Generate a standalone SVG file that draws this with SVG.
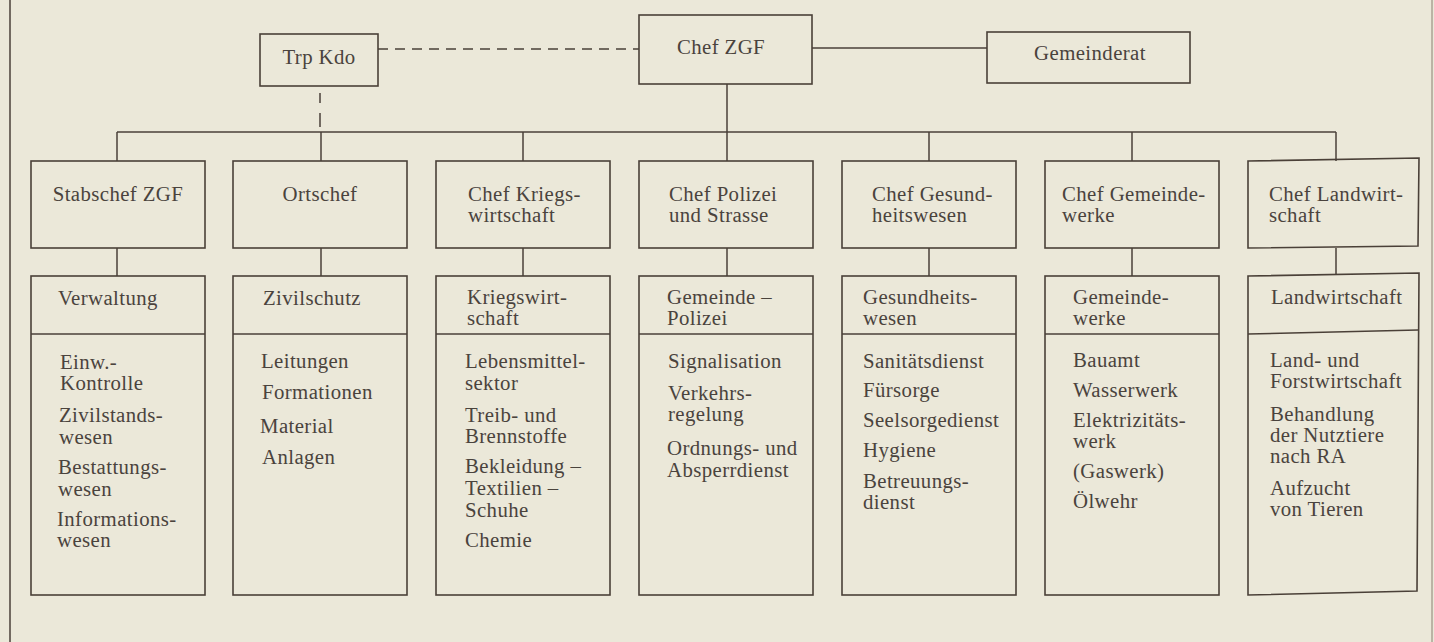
<svg xmlns="http://www.w3.org/2000/svg" width="1434" height="642" viewBox="0 0 1434 642">
<style>
.bg{fill:#ebe8d9}
.box{fill:none;stroke:#4a4038;stroke-width:1.6}
.ln{fill:none;stroke:#4a4038;stroke-width:1.5}
.dash{fill:none;stroke:#4a4038;stroke-width:1.5;stroke-dasharray:10 7}
text{font-family:"Liberation Serif","Times New Roman",serif;font-size:20.8px;fill:#4a433d;letter-spacing:0.4px}
.c{text-anchor:middle}
</style>
<rect class="bg" x="0" y="0" width="1434" height="642"/>
<line class="ln" x1="10" y1="0" x2="10" y2="642"/>
<line x1="1432" y1="0" x2="1432" y2="642" stroke="#8a8070" stroke-width="1"/>

<g id="connectors">
<line class="dash" x1="378" y1="49" x2="639" y2="49"/>
<line class="ln" x1="812" y1="48" x2="987" y2="48"/>
<line class="ln" x1="320" y1="93" x2="320" y2="103"/>
<line class="ln" x1="320" y1="113" x2="320" y2="127"/>
<line class="ln" x1="727" y1="84" x2="727" y2="132"/>
<line class="ln" x1="117" y1="132" x2="1336" y2="132"/>
<line class="ln" x1="117" y1="132" x2="117" y2="161"/>
<line class="ln" x1="321" y1="132" x2="321" y2="161"/>
<line class="ln" x1="523" y1="132" x2="523" y2="161"/>
<line class="ln" x1="727" y1="132" x2="727" y2="161"/>
<line class="ln" x1="929" y1="132" x2="929" y2="161"/>
<line class="ln" x1="1132" y1="132" x2="1132" y2="161"/>
<line class="ln" x1="1336" y1="132" x2="1336" y2="161"/>
<line class="ln" x1="117" y1="248" x2="117" y2="276"/>
<line class="ln" x1="321" y1="248" x2="321" y2="276"/>
<line class="ln" x1="523" y1="248" x2="523" y2="276"/>
<line class="ln" x1="727" y1="248" x2="727" y2="276"/>
<line class="ln" x1="929" y1="248" x2="929" y2="276"/>
<line class="ln" x1="1132" y1="248" x2="1132" y2="276"/>
<line class="ln" x1="1336" y1="248" x2="1336" y2="275"/>
</g>

<g id="trp-kdo">
<rect class="box" x="260" y="34" width="118" height="52"/>
<text class="c" x="319" y="64">Trp Kdo</text>
</g>
<g id="chef-zgf">
<rect class="box" x="639" y="15" width="173" height="69"/>
<text class="c" x="721" y="54">Chef ZGF</text>
</g>
<g id="gemeinderat">
<rect class="box" x="987" y="32" width="203" height="51"/>
<text class="c" x="1090" y="60">Gemeinderat</text>
</g>

<g id="stabschef">
<rect class="box" x="31" y="161" width="174" height="87"/>
<text class="c" x="118" y="201">Stabschef ZGF</text>
</g>
<g id="ortschef">
<rect class="box" x="233" y="161" width="174" height="87"/>
<text class="c" x="320" y="201">Ortschef</text>
</g>
<g id="chef-kriegswirtschaft">
<rect class="box" x="436" y="161" width="174" height="87"/>
<text x="468" y="201">Chef Kriegs-</text>
<text x="468" y="222">wirtschaft</text>
</g>
<g id="chef-polizei">
<rect class="box" x="639" y="161" width="174" height="87"/>
<text x="669" y="201">Chef Polizei</text>
<text x="669" y="222">und Strasse</text>
</g>
<g id="chef-gesundheit">
<rect class="box" x="842" y="161" width="174" height="87"/>
<text x="872" y="201">Chef Gesund-</text>
<text x="872" y="222">heitswesen</text>
</g>
<g id="chef-gemeindewerke">
<rect class="box" x="1045" y="161" width="174" height="87"/>
<text x="1062" y="201">Chef Gemeinde-</text>
<text x="1062" y="222">werke</text>
</g>
<g id="chef-landwirtschaft">
<path class="box" d="M1248 161 L1419 158 L1418 246 L1248 248 Z"/>
<text x="1269" y="201">Chef Landwirt-</text>
<text x="1269" y="222">schaft</text>
</g>

<g id="verwaltung">
<rect class="box" x="31" y="276" width="174" height="319"/>
<line class="ln" x1="31" y1="334" x2="205" y2="334"/>
<text x="58" y="305">Verwaltung</text>
<text x="60" y="369">Einw.-</text>
<text x="60" y="390">Kontrolle</text>
<text x="59" y="422">Zivilstands-</text>
<text x="59" y="444">wesen</text>
<text x="58" y="474">Bestattungs-</text>
<text x="58" y="496">wesen</text>
<text x="57" y="526">Informations-</text>
<text x="57" y="547">wesen</text>
</g>
<g id="zivilschutz">
<rect class="box" x="233" y="276" width="174" height="319"/>
<line class="ln" x1="233" y1="334" x2="407" y2="334"/>
<text x="263" y="305">Zivilschutz</text>
<text x="261" y="368">Leitungen</text>
<text x="262" y="399">Formationen</text>
<text x="260" y="433">Material</text>
<text x="262" y="464">Anlagen</text>
</g>
<g id="kriegswirtschaft">
<rect class="box" x="436" y="276" width="174" height="319"/>
<line class="ln" x1="436" y1="334" x2="610" y2="334"/>
<text x="467" y="304">Kriegswirt-</text>
<text x="467" y="325">schaft</text>
<text x="465" y="368">Lebensmittel-</text>
<text x="465" y="390">sektor</text>
<text x="465" y="422">Treib- und</text>
<text x="465" y="443">Brennstoffe</text>
<text x="465" y="473">Bekleidung –</text>
<text x="465" y="495">Textilien –</text>
<text x="465" y="517">Schuhe</text>
<text x="465" y="547">Chemie</text>
</g>
<g id="gemeinde-polizei">
<rect class="box" x="639" y="276" width="174" height="319"/>
<line class="ln" x1="639" y1="334" x2="813" y2="334"/>
<text x="667" y="304">Gemeinde –</text>
<text x="667" y="325">Polizei</text>
<text x="668" y="368">Signalisation</text>
<text x="668" y="400">Verkehrs-</text>
<text x="668" y="421">regelung</text>
<text x="667" y="455">Ordnungs- und</text>
<text x="667" y="477">Absperrdienst</text>
</g>
<g id="gesundheitswesen">
<rect class="box" x="842" y="276" width="174" height="319"/>
<line class="ln" x1="842" y1="334" x2="1016" y2="334"/>
<text x="863" y="304">Gesundheits-</text>
<text x="863" y="325">wesen</text>
<text x="863" y="368">Sanitätsdienst</text>
<text x="863" y="397">Fürsorge</text>
<text x="863" y="427">Seelsorgedienst</text>
<text x="863" y="457">Hygiene</text>
<text x="863" y="488">Betreuungs-</text>
<text x="863" y="509">dienst</text>
</g>
<g id="gemeindewerke">
<rect class="box" x="1045" y="276" width="174" height="319"/>
<line class="ln" x1="1045" y1="334" x2="1219" y2="334"/>
<text x="1073" y="304">Gemeinde-</text>
<text x="1073" y="325">werke</text>
<text x="1073" y="367">Bauamt</text>
<text x="1073" y="397">Wasserwerk</text>
<text x="1073" y="427">Elektrizitäts-</text>
<text x="1073" y="448">werk</text>
<text x="1073" y="478">(Gaswerk)</text>
<text x="1073" y="508">Ölwehr</text>
</g>
<g id="landwirtschaft">
<path class="box" d="M1248 276 L1419 273 L1417 591 L1248 595 Z"/>
<line class="ln" x1="1248" y1="334" x2="1418" y2="330"/>
<text x="1271" y="304">Landwirtschaft</text>
<text x="1270" y="367">Land- und</text>
<text x="1270" y="388">Forstwirtschaft</text>
<text x="1270" y="421">Behandlung</text>
<text x="1270" y="442">der Nutztiere</text>
<text x="1270" y="463">nach RA</text>
<text x="1270" y="495">Aufzucht</text>
<text x="1270" y="516">von Tieren</text>
</g>
</svg>
